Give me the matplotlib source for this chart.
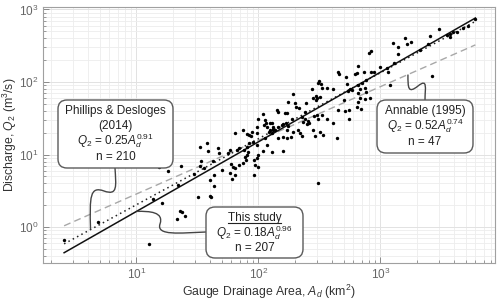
import numpy as np
import matplotlib
matplotlib.use("Agg")
import matplotlib.pyplot as plt
from matplotlib.patches import FancyBboxPatch, PathPatch
from matplotlib.path import Path
from matplotlib.transforms import IdentityTransform
from matplotlib.lines import Line2D

plt.rcParams['font.family'] = ['Liberation Sans', 'DejaVu Sans']
plt.rcParams['mathtext.fontset'] = 'custom'
plt.rcParams['mathtext.rm'] = 'Liberation Sans'
plt.rcParams['mathtext.it'] = 'Liberation Sans:italic'
plt.rcParams['mathtext.bf'] = 'Liberation Sans:bold'

# ---- data (log10 of drainage area km^2, log10 of Q2 m^3/s) ----
log_area = [0.406, 0.684, 1.102, 1.135, 1.184, 1.209, 1.258, 1.258, 1.340, 1.332,
            1.357, 1.373, 1.398, 1.365, 1.471, 1.504, 1.520, 1.578, 1.586, 1.529,
            1.520, 1.553, 1.602, 1.635, 1.602, 1.611, 1.627, 1.668, 1.676, 1.701,
            1.635, 1.750, 1.766, 1.807, 1.824, 1.840, 1.775, 1.791, 1.807, 1.766,
            1.783, 1.807, 1.840, 1.873, 1.906, 1.922, 1.947, 1.939, 1.988, 1.988,
            1.996, 2.037, 1.881, 1.906, 1.922, 1.955, 1.988, 1.914, 1.889, 1.898,
            1.873, 1.906, 1.963, 1.988, 1.996, 1.971, 1.996, 1.963, 2.037, 2.070,
            2.111, 2.111, 2.119, 2.053, 2.061, 2.094, 2.119, 2.152, 2.160, 2.086,
            2.201, 2.488, 2.906, 2.922, 2.816, 2.791, 2.807, 2.865, 2.922, 2.881,
            2.848, 2.652, 2.660, 2.717, 2.725, 2.750, 2.766, 2.816, 2.832, 2.496,
            2.488, 2.512, 2.439, 2.471, 2.480, 2.520, 2.561, 2.611, 2.283, 2.242,
            2.299, 2.307, 2.332, 2.389, 2.447, 2.471, 2.504, 2.816, 2.832, 2.873,
            2.881, 2.816, 2.742, 2.807, 2.840, 2.742, 2.701, 2.652, 2.709, 2.561,
            2.611, 2.520, 2.480, 2.455, 2.488, 2.381, 2.357, 2.381, 2.406, 2.414,
            2.365, 2.398, 2.217, 2.234, 2.242, 2.201, 2.193, 2.225, 2.275, 2.045,
            2.070, 2.111, 2.119, 2.094, 2.135, 2.160, 2.283, 2.324, 2.340, 2.357,
            2.266, 2.234, 2.447, 2.504, 2.463, 2.529, 2.643, 2.201, 2.234, 2.160,
            2.053, 3.775, 3.717, 3.676, 3.627, 3.594, 3.570, 3.545, 3.570, 3.480,
            3.406, 3.389, 3.324, 3.102, 3.143, 3.143, 3.201, 3.217, 3.250, 3.111,
            3.422, 3.078, 3.053, 3.061, 2.996, 2.947, 2.873, 2.734, 2.914]
log_q = [-0.179, 0.069, -0.234, 0.386, 0.828, 0.331, 0.910, 0.772, 0.579, 0.110,
         0.221, 0.207, 0.152, 0.841, 0.731, 0.414, 1.103, 1.159, 1.048, 0.910,
         0.841, 0.814, 0.648, 0.566, 0.428, 0.414, 0.910, 1.090, 1.021, 0.786,
         0.717, 1.021, 1.062, 1.297, 1.062, 1.090, 0.869, 0.828, 0.814, 0.745,
         0.662, 0.717, 0.855, 1.338, 1.283, 1.269, 1.310, 1.255, 1.297, 1.379,
         1.490, 1.559, 1.062, 1.103, 1.159, 1.172, 1.131, 1.034, 0.966, 0.924,
         0.883, 0.993, 0.924, 0.952, 0.993, 0.855, 0.828, 0.717, 1.048, 1.131,
         1.034, 1.297, 1.338, 1.476, 1.434, 1.434, 1.379, 1.614, 1.586, 1.310,
         1.048, 0.607, 2.400, 2.428, 2.221, 2.110, 2.124, 2.138, 2.138, 2.028,
         1.986, 2.138, 2.110, 2.069, 1.972, 1.903, 1.890, 1.959, 1.903, 2.014,
         1.986, 1.972, 1.903, 1.807, 1.779, 1.917, 1.917, 1.903, 1.834, 1.724,
         1.710, 1.655, 1.641, 1.710, 1.779, 1.752, 1.793, 1.848, 1.779, 1.766,
         1.862, 1.724, 1.614, 1.655, 1.628, 1.490, 1.752, 1.614, 1.600, 1.490,
         1.434, 1.545, 1.545, 1.531, 1.490, 1.586, 1.517, 1.490, 1.462, 1.434,
         1.448, 1.421, 1.572, 1.572, 1.393, 1.421, 1.407, 1.434, 1.490, 1.407,
         1.379, 1.434, 1.352, 1.338, 1.338, 1.379, 1.310, 1.338, 1.297, 1.255,
         1.241, 1.338, 1.338, 1.310, 1.255, 1.269, 1.228, 1.241, 1.228, 1.228,
         1.228, 2.869, 2.772, 2.745, 2.690, 2.690, 2.662, 2.648, 2.621, 2.731,
         2.634, 2.524, 2.441, 2.538, 2.483, 2.386, 2.607, 2.524, 2.552, 2.262,
         2.083, 1.959, 2.193, 2.138, 2.207, 2.138, 1.917, 1.876, 1.779]

area = 10 ** np.array(log_area)
q2 = 10 ** np.array(log_q)

# regression relations: coefficient, exponent, sample size
this_coef, this_exp, this_n = 0.18, 0.96, 207
phil_coef, phil_exp, phil_n = 0.25, 0.91, 210
ann_coef, ann_exp, ann_n = 0.52, 0.74, 47
line_range = [2.55, 6000]

xlim = (1.712, 8690)
ylim = (0.319, 1082)

W, H = 500, 302
fig = plt.figure(figsize=(W / 100, H / 100), dpi=100)
ax = fig.add_axes([43 / W, 1 - 263 / H, (495 - 43) / W, (263 - 7) / H])
ax.set_xscale('log')
ax.set_yscale('log')
ax.set_xlim(*xlim)
ax.set_ylim(*ylim)

ax.grid(True, which='major', color='#e2e2e2', lw=0.7, zorder=0)
ax.grid(True, which='minor', color='#ededed', lw=0.6, zorder=0)
ax.set_axisbelow(True)
for s in ax.spines.values():
    s.set_color('#a0a0a0')
    s.set_linewidth(0.8)
ax.tick_params(which='both', direction='in', colors='#8a8a8a', labelcolor='#666666',
               labelsize=8.5, top=False, right=False)
ax.tick_params(which='major', length=4, width=0.7)
ax.tick_params(which='minor', length=2.5, width=0.6)
ax.tick_params(axis='x', which='major', pad=3)

ax.set_xlabel('Gauge Drainage Area, $A_d$ (km$^2$)', fontsize=8.8, color='#333333')
ax.set_ylabel('Discharge, $Q_2$ (m$^3$/s)', fontsize=8.8, color='#333333')
ax.xaxis.set_label_coords(0.5, -0.076)
ax.yaxis.set_label_coords(-0.052, 0.5)

xx = np.logspace(np.log10(line_range[0]), np.log10(line_range[1]), 200)
ax.plot(xx, ann_coef * xx ** ann_exp, ls=(0, (5, 3)), color='#a8a8a8', lw=1.0, zorder=2)
ax.plot(xx, phil_coef * xx ** phil_exp, ls=(0, (1, 2.2)), color='#222222', lw=1.1, zorder=2)
ax.plot(xx, this_coef * xx ** this_exp, ls='-', color='#111111', lw=1.1, zorder=3)

ax.scatter(area, q2, s=6, color='black', linewidths=0, zorder=4)

fig.canvas.draw()

def to_disp(pt):
    # figure pixel coords measured from top-left -> display coords
    return (pt[0], H - pt[1])

def data_tl(a, q):
    # data point -> top-left pixel coords
    dx, dy = ax.transData.transform((a, q))
    return (dx, H - dy)

box_kw = dict(boxstyle='round,pad=0,rounding_size=9', fc='white', ec='#5a5a5a', lw=1.0,
              transform=IdentityTransform(), zorder=10)

def add_box(x0, y0, x1, y1):
    p = FancyBboxPatch((x0, H - y1), x1 - x0, y1 - y0, **box_kw)
    fig.add_artist(p)

def add_curve(points):
    verts = [to_disp(points[0])]
    codes = [Path.MOVETO]
    for i in range(1, len(points), 3):
        verts += [to_disp(p) for p in points[i:i + 3]]
        codes += [Path.CURVE4] * 3
    pp = PathPatch(Path(verts, codes), fc='none', ec='#444444', lw=1.0,
                   transform=IdentityTransform(), zorder=9)
    fig.add_artist(pp)

# connectors (S-shaped) from boxes to the fitted lines
a_ph = 4.2
e = data_tl(a_ph, phil_coef * a_ph ** phil_exp)
add_curve([(115, 168), (116, 186), (118, 196), (104, 191),
           (90, 186), (e[0] - 1, 196), e])

a_ts = 10.0
e = data_tl(a_ts, this_coef * a_ts ** this_exp)
add_curve([(206, 232), (180, 233), (156, 236), (160, 224),
           (164, 212), (150, 211), e])

a_an = 1680.0
e = data_tl(a_an, ann_coef * a_an ** ann_exp)
add_curve([(425, 100), (425, 88), (428, 78), (418, 86),
           (408, 94), (e[0], 88), e])

# boxes
add_box(58, 100, 173, 168)
add_box(377, 100, 473, 153)
add_box(206, 207, 303, 258)

tk = dict(ha='center', va='center', fontsize=8.5, color='#222222', zorder=11,
          transform=IdentityTransform())

def put(x, y, s):
    return fig.text(x, H - y, s, **tk)

put(115.5, 111, 'Phillips & Desloges')
put(115.5, 126, '(2014)')
put(115.5, 141, r'$Q_2$ = %.2f$A_d^{\mathit{%.2f}}$' % (phil_coef, phil_exp))
put(115.5, 157, 'n = %d' % phil_n)

put(425, 111, 'Annable (1995)')
put(425, 126, r'$Q_2$ = %.2f$A_d^{\mathit{%.2f}}$' % (ann_coef, ann_exp))
put(425, 142, 'n = %d' % ann_n)

t_ts = put(254.5, 218, 'This study')
put(254.5, 233, r'$Q_2$ = %.2f$A_d^{\mathit{%.2f}}$' % (this_coef, this_exp))
put(254.5, 248, 'n = %d' % this_n)

fig.canvas.draw()
bb = t_ts.get_window_extent()
fig.add_artist(Line2D([bb.x0, bb.x1], [bb.y0 + 1, bb.y0 + 1], color='#222222', lw=0.8,
                      transform=IdentityTransform(), zorder=11))

fig.savefig('out.png', dpi=100)
